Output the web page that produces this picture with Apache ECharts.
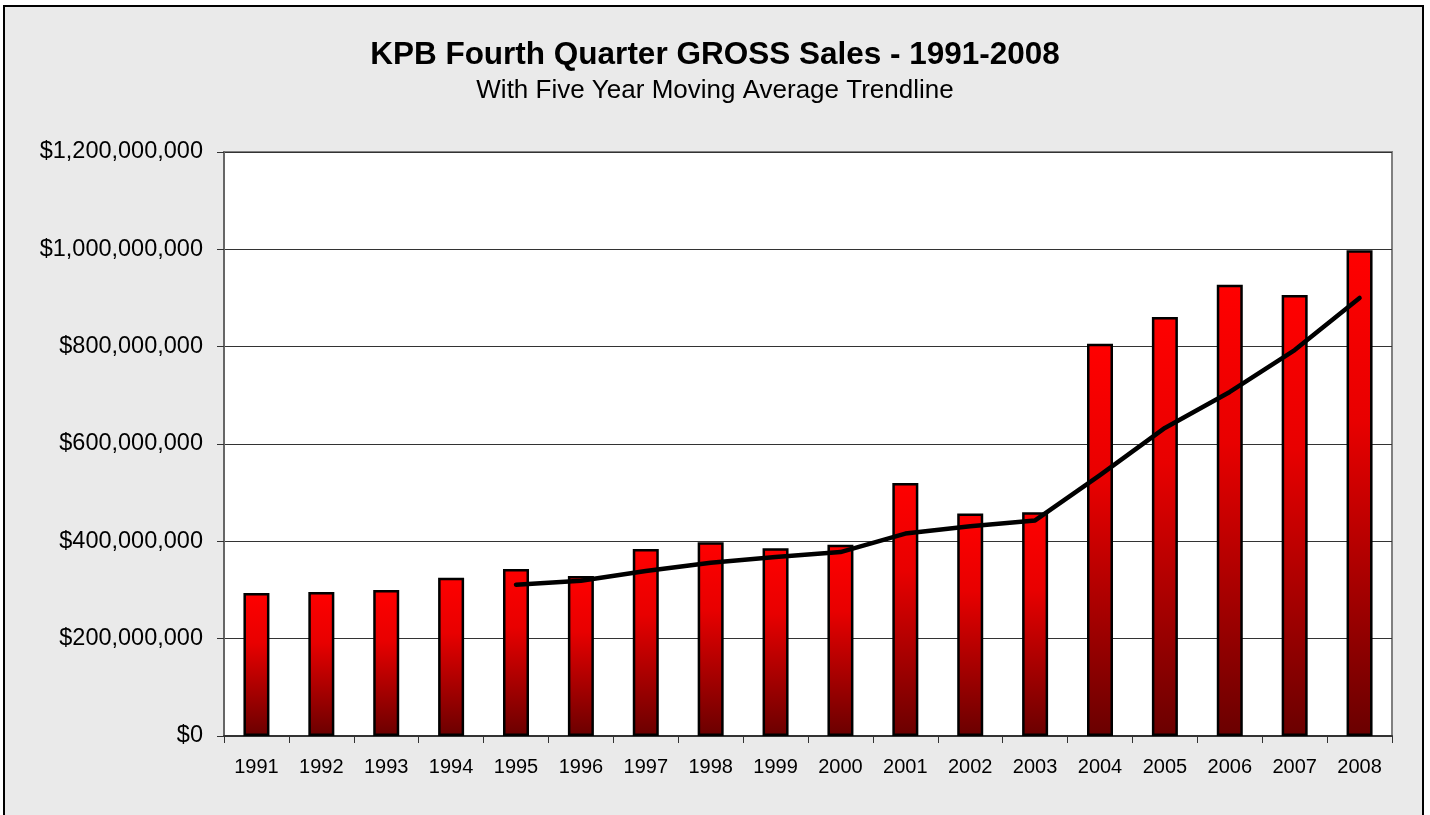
<!DOCTYPE html>
<html>
<head>
<meta charset="utf-8">
<script src="https://cdn.jsdelivr.net/npm/echarts@6/dist/echarts.min.js"></script>
<style>
  body { margin: 0; background: #fff; }
  #frame { position: absolute; left: 3px; top: 5px; width: 1417px; height: 840px; background: #eaeaea; border: 2px solid #000; }
  #chart { position: absolute; left: 0; top: 0; width: 1430px; height: 815px; }
</style>
</head>
<body>
<div id="frame"></div>
<div id="chart"></div>
<script>
// years on the x axis
const years = ['1991', '1992', '1993', '1994', '1995', '1996', '1997', '1998', '1999',
  '2000', '2001', '2002', '2003', '2004', '2005', '2006', '2007', '2008'];

// fourth quarter gross sales
const grossSales = [294e6, 296e6, 300e6, 325e6, 343e6, 329e6, 384e6, 398e6, 386e6,
  393e6, 520e6, 457e6, 460e6, 806e6, 861e6, 927e6, 906e6, 998e6];

const movingAvg = [null, null, null, null, 311e6, 319e6, 339e6, 356e6, 368e6,
  378e6, 416e6, 431e6, 443e6, 536e6, 633e6, 707e6, 793e6, 900e6];

const chart = echarts.init(document.getElementById('chart'));

const font = '"Liberation Sans", Arial, sans-serif';

const options = {
  backgroundColor: 'transparent',
  animation: false,
  title: [
    {
      text: 'KPB Fourth Quarter GROSS Sales - 1991-2008',
      left: 'center',
      top: 34,
      textStyle: { fontFamily: font, fontSize: 31.5, fontWeight: 'bold', color: '#000' }
    },
    {
      text: 'With Five Year Moving Average Trendline',
      left: 'center',
      top: 73,
      textStyle: { fontFamily: font, fontSize: 26, fontWeight: 'normal', color: '#000' }
    }
  ],
  grid: {
    left: 224,
    top: 152,
    width: 1168,
    height: 584,
    show: true,
    backgroundColor: '#fff',
    borderColor: '#808080',
    borderWidth: 2
  },
  xAxis: {
    type: 'category',
    data: years,
    boundaryGap: true,
    axisLine: { lineStyle: { color: '#333', width: 2 } },
    axisTick: { show: true, length: 7, alignWithLabel: false, lineStyle: { color: '#333' } },
    axisLabel: { fontFamily: font, fontSize: 20, color: '#000', margin: 21 }
  },
  yAxis: {
    type: 'value',
    min: 0,
    max: 1200000000,
    interval: 200000000,
    axisLine: { show: true, lineStyle: { color: '#666', width: 2 } },
    axisTick: { show: true, length: 7, lineStyle: { color: '#333' } },
    axisLabel: {
      fontFamily: font,
      fontSize: 23.5,
      color: '#000',
      margin: 21,
      formatter: v => '$' + v.toLocaleString('en-US')
    },
    splitLine: { lineStyle: { color: '#333', width: 1 } }
  },
  series: [
    {
      name: 'Gross Sales',
      type: 'bar',
      data: grossSales,
      barWidth: 26,
      itemStyle: {
        borderColor: '#000',
        borderWidth: 2.5,
        color: new echarts.graphic.LinearGradient(0, 0, 0, 1, [
          { offset: 0, color: '#ff0000' },
          { offset: 0.35, color: '#e80000' },
          { offset: 1, color: '#6a0000' }
        ])
      }
    },
    {
      name: 'Five Year Moving Average',
      type: 'line',
      data: movingAvg,
      symbol: 'none',
      connectNulls: false,
      z: 5,
      lineStyle: { color: '#000', width: 4.5, cap: 'round', join: 'round' }
    }
  ]
};

chart.setOption(options);
</script>
</body>
</html>
